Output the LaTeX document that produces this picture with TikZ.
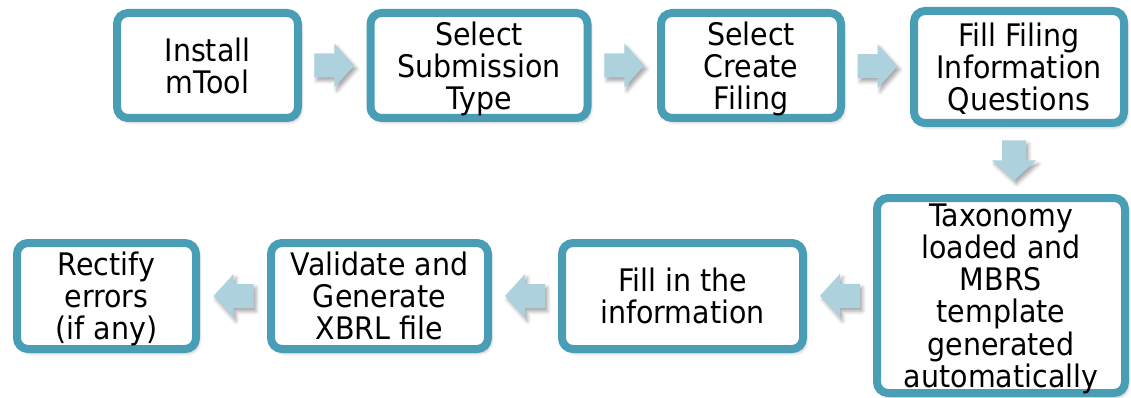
\documentclass[tikz,border=0pt]{standalone}
\usepackage{fontspec}
\setmainfont{DejaVu Sans}
\usetikzlibrary{calc,shadows.blur}
\definecolor{boxline}{HTML}{499DB4}
\definecolor{arrfill}{HTML}{ADD2DE}
\newcommand\boxtext[1]{\scalebox{1}[1.09]{\vbox{\baselineskip=29.5pt\lineskiplimit=-100pt\halign{\hfil##\hfil\cr#1\crcr}\vskip-\prevdepth}}}
\tikzset{
  shadowed/.style={blur shadow={shadow xshift=2.5pt, shadow yshift=-3.5pt, shadow blur radius=3.5pt, shadow opacity=35}},
  box/.style={draw=boxline, line width=8pt, rounded corners=11pt, fill=white,
    align=center, inner sep=0pt, text=black,
    font=\fontsize{28.5}{29.5}\selectfont, shadowed},
  blockarrow/.pic={\path[fill=arrfill, shadowed]
     (-20,-12) -- (0,-12) -- (0,-22) -- (20,0) -- (0,22) -- (0,12) -- (-20,12) -- cycle;}
}
\begin{document}
\begin{tikzpicture}[x=1pt,y=-1pt]
\useasboundingbox (0,0) rectangle (1131,398);
% top row
\node[box, minimum width=181pt, minimum height=105pt] (b1) at (207.5,65.5) {\boxtext{Install\cr mTool}};
\node[box, minimum width=217pt, minimum height=105pt] (b2) at (479,65.5) {\boxtext{Select\cr Submission\cr Type}};
\node[box, minimum width=180pt, minimum height=105pt] (b3) at (751,65.5) {\boxtext{Select\cr Create\cr Filing}};
\node[box, minimum width=210pt, minimum height=112pt] (b4) at (1019,67) {\boxtext{Fill Filing\cr Information\cr Questions}};
% bottom row
\node[box, minimum width=248pt, minimum height=195pt] (b5) at (1001,295.5) {\boxtext{Taxonomy\cr loaded and\cr MBRS\cr template\cr generated\cr automatically}};
\node[box, minimum width=241pt, minimum height=106pt] (b6) at (682.5,296) {\boxtext{Fill in the\cr information}};
\node[box, minimum width=217pt, minimum height=106pt] (b7) at (379.5,296) {\boxtext{Validate and\cr Generate\cr XBRL file}};
\node[box, minimum width=179pt, minimum height=106pt] (b8) at (106.5,296) {\boxtext{Rectify\cr errors\cr (if any)}};
% block arrows
\path ($(b1.east)!0.5!(b2.west)$) pic {blockarrow};
\path ($(b2.east)!0.5!(b3.west)$) pic {blockarrow};
\path ($(b3.east)!0.5!(b4.west)$) pic {blockarrow};
\path ($(b4.south)!0.5!(b5.north)+(4,0)$) pic[rotate=-90] {blockarrow};
\path ($(b5.west)!0.5!(b6.east)$) pic[rotate=180] {blockarrow};
\path ($(b6.west)!0.5!(b7.east)$) pic[rotate=180] {blockarrow};
\path ($(b7.west)!0.5!(b8.east)$) pic[rotate=180] {blockarrow};
\end{tikzpicture}
\end{document}
